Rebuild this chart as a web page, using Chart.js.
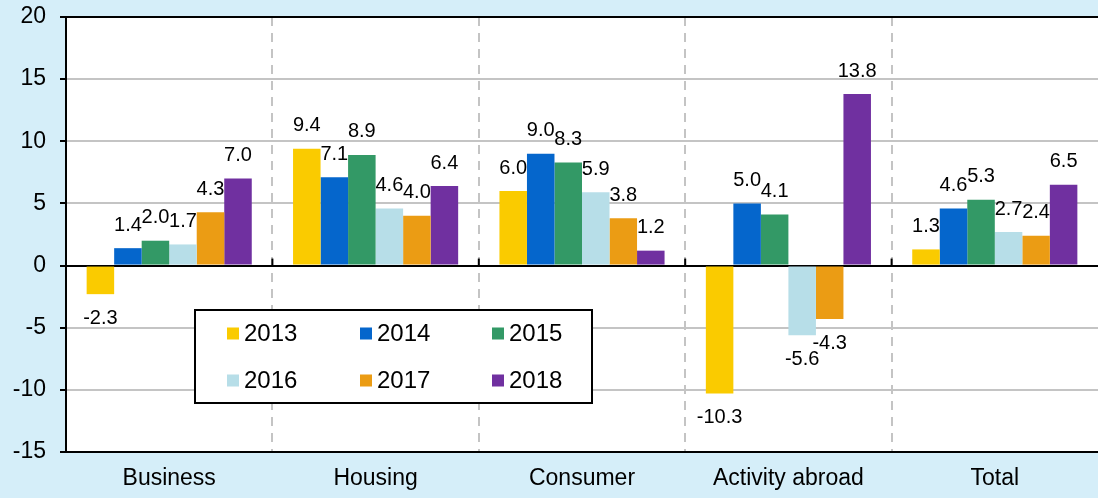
<!DOCTYPE html>
<html>
<head>
<meta charset="utf-8">
<script src="https://cdn.jsdelivr.net/npm/chart.js@4/dist/chart.umd.min.js"></script>
<style>
  html, body { margin: 0; padding: 0; background: #d5eef9; }
  #wrap { width: 1098px; height: 498px; }
</style>
</head>
<body>
<div id="wrap"><canvas id="chart" width="1098" height="498"></canvas></div>
<script>
// categories + series
var categories = ['Business', 'Housing', 'Consumer', 'Activity abroad', 'Total'];
var years = ['2013', '2014', '2015', '2016', '2017', '2018'];
var colors = ['#facb00', '#0566cc', '#339966', '#b7dee8', '#eb9c14', '#7030a0'];

var s2013 = [-2.3, 9.4, 6.0, -10.3, 1.3];
var s2014 = [1.4, 7.1, 9.0, 5.0, 4.6];
var s2015 = [2.0, 8.9, 8.3, 4.1, 5.3];
var s2016 = [1.7, 4.6, 5.9, -5.6, 2.7];
var s2017 = [4.3, 4.0, 3.8, -4.3, 2.4];
var s2018 = [7.0, 6.4, 1.2, 13.8, 6.5];
var series = [s2013, s2014, s2015, s2016, s2017, s2018];

var yMin = -15, yMax = 20, yStep = 5;

var FONT = '"Liberation Sans", Arial, sans-serif';

var datasets = years.map(function (y, i) {
  return {
    label: y,
    data: series[i],
    backgroundColor: colors[i],
    borderWidth: 0,
    categoryPercentage: 0.8,
    barPercentage: 1.0
  };
});

// page background + white plot area
var bgPlugin = {
  id: 'bg',
  beforeDraw: function (chart) {
    var ctx = chart.ctx, a = chart.chartArea;
    ctx.save();
    ctx.fillStyle = '#d5eef9';
    ctx.fillRect(0, 0, chart.width, chart.height);
    ctx.fillStyle = '#ffffff';
    ctx.fillRect(a.left, a.top, a.right - a.left, a.bottom - a.top);
    ctx.restore();
  }
};

// value labels at the bar ends
var labelPlugin = {
  id: 'valueLabels',
  afterDatasetsDraw: function (chart) {
    var ctx = chart.ctx;
    ctx.save();
    ctx.font = '20px ' + FONT;
    ctx.fillStyle = '#000';
    ctx.textAlign = 'center';
    ctx.textBaseline = 'middle';
    chart.data.datasets.forEach(function (ds, di) {
      var meta = chart.getDatasetMeta(di);
      meta.data.forEach(function (bar, i) {
        var v = ds.data[i];
        var y = v >= 0 ? bar.y - 23 : bar.y + 24;
        ctx.fillText(v.toFixed(1), bar.x, y);
      });
    });
    ctx.restore();
  }
};

// small ticks on the zero line + boxed legend inside the plot
var extrasPlugin = {
  id: 'extras',
  afterDraw: function (chart) {
    var ctx = chart.ctx;
    var xs = chart.scales.x, ys = chart.scales.y;
    var y0 = ys.getPixelForValue(0);
    ctx.save();
    ctx.strokeStyle = '#000';
    ctx.lineWidth = 2;
    for (var i = 1; i < categories.length; i++) {
      var bx = (xs.getPixelForValue(i - 1) + xs.getPixelForValue(i)) / 2;
      ctx.beginPath();
      ctx.moveTo(bx, y0 - 7);
      ctx.lineTo(bx, y0);
      ctx.stroke();
    }

    // legend box
    var lx = 195, ly = 310, lw = 397, lh = 93;
    ctx.fillStyle = '#fff';
    ctx.fillRect(lx, ly, lw, lh);
    ctx.strokeStyle = '#000';
    ctx.lineWidth = 2;
    ctx.strokeRect(lx, ly, lw, lh);

    ctx.font = '24px ' + FONT;
    ctx.textAlign = 'left';
    ctx.textBaseline = 'middle';
    var colX = [227, 360, 492];
    var rowY = [333.5, 380.5];
    years.forEach(function (y, i) {
      var cx = colX[i % 3], cy = rowY[Math.floor(i / 3)];
      ctx.fillStyle = colors[i];
      ctx.fillRect(cx, cy - 6, 12, 12);
      ctx.fillStyle = '#000';
      ctx.fillText(y, cx + 17, cy + 1);
    });
    ctx.restore();
  }
};

new Chart(document.getElementById('chart').getContext('2d'), {
  type: 'bar',
  data: { labels: categories, datasets: datasets },
  options: {
    responsive: false,
    animation: false,
    layout: { padding: { top: 17, right: 0, bottom: 0, left: 0 } },
    plugins: {
      legend: { display: false },
      tooltip: { enabled: false }
    },
    scales: {
      x: {
        offset: true,
        grid: {
          offset: true,
          drawTicks: false,
          lineWidth: 2,
          color: function (c) { return c.index === 0 || c.index === undefined ? 'rgba(0,0,0,0)' : '#c4c4c4'; }
        },
        border: { display: true, color: '#000', width: 2, dash: [9, 7] },
        ticks: { color: '#000', font: { family: FONT, size: 23 }, padding: 13, maxRotation: 0 },
        afterFit: function (scale) { scale.height = 46; scale.paddingLeft = 0; scale.paddingRight = 0; }
      },
      y: {
        min: yMin,
        max: yMax,
        ticks: { stepSize: yStep, color: '#000', font: { family: FONT, size: 23 }, padding: 14 },
        grid: {
          lineWidth: 2,
          tickLength: 6,
          tickColor: '#000',
          color: function (c) {
            var v = c.tick ? c.tick.value : null;
            return (v === 0 || v === yMax) ? '#000' : '#c4c4c4';
          }
        },
        border: { display: true, color: '#000', width: 2 },
        afterFit: function (scale) { scale.width = 66; scale.paddingTop = 0; scale.paddingBottom = 0; }
      }
    }
  },
  plugins: [bgPlugin, labelPlugin, extrasPlugin]
});
</script>
</body>
</html>
